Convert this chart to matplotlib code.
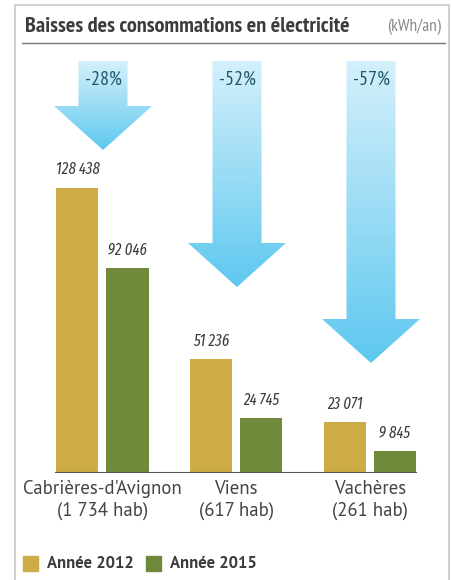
import numpy as np
import matplotlib.pyplot as plt
from matplotlib.patches import Polygon, Rectangle
from matplotlib.colors import LinearSegmentedColormap

communes = ["Cabrières-d'Avignon", "Viens", "Vachères"]
habitants = ["(1 734 hab)", "(617 hab)", "(261 hab)"]
conso_2012 = [128438, 51236, 23071]
conso_2015 = [92046, 24745, 9845]
baisses = ["-28%", "-52%", "-57%"]
annees = ["Année 2012", "Année 2015"]

GOLD = "#cdab45"
GREEN = "#6e8a3a"
TXT = "#3c3c3c"
NARROW = ["PT Sans Narrow", "Roboto Condensed", "DejaVu Sans"]
VALFONT = ["Fira Sans Extra Condensed", "Roboto Condensed", "DejaVu Sans"]
REG = ["PT Sans", "Fira Sans", "DejaVu Sans"]

W, H = 451, 580
fig = plt.figure(figsize=(W / 100, H / 100), dpi=100)

# overlay in pixel coords (y down) for frame, title, arrows, legend
ov = fig.add_axes([0, 0, 1, 1])
ov.set_xlim(0, W)
ov.set_ylim(H, 0)
ov.axis("off")

ov.plot([15, 15, 449, 449], [H + 5, 5, 5, H + 5], color="#c8c8c8", lw=1.2)
ov.plot([22, 445], [43, 43], color="#7a7a7a", lw=1.0)
ov.text(25, 26, "Baisses des consommations en électricité", family=NARROW,
        fontweight="bold", fontsize=16, color=TXT, va="center", ha="left")
ov.text(441, 27, "(kWh/an)", family=NARROW, fontsize=12.5, color="#8a8a8a",
        va="center", ha="right")

# arrows with vertical gradient
grad = np.linspace(0, 1, 256).reshape(-1, 1)
cmap = LinearSegmentedColormap.from_list("blu", ["#d4f0fb", "#9adcf5", "#5ec8f0"])
arrows = [(103, 61, 150), (237, 61, 287), (371, 61, 363)]
shaft_w, head_w, head_h = 49, 98, 44
for (cx, top, tip), lab in zip(arrows, baisses):
    hs = tip - head_h
    pts = [(cx - shaft_w / 2, top), (cx + shaft_w / 2, top), (cx + shaft_w / 2, hs),
           (cx + head_w / 2, hs), (cx, tip), (cx - head_w / 2, hs), (cx - shaft_w / 2, hs)]
    poly = Polygon(pts, closed=True, facecolor="none", edgecolor="none")
    ov.add_patch(poly)
    im = ov.imshow(grad, cmap=cmap, aspect="auto",
                   extent=(cx - head_w / 2, cx + head_w / 2, tip, top), zorder=1)
    im.set_clip_path(poly)
    ov.text(cx, 80, lab, family=NARROW, fontsize=14.5, color="#1e5868",
            ha="center", va="center", zorder=3)
ov.set_xlim(0, W)
ov.set_ylim(H, 0)

# bar chart axes
x0 = 102.5
unit = 133.75
ax = fig.add_axes([15 / W, 107 / H, (449 - 15) / W, (H - 5 - 107) / H])
ax.patch.set_alpha(0)
ax.set_xlim((15 - x0) / unit, (449 - x0) / unit)
ax.set_ylim(0, (H - 5 - 107) * 450)
x = np.arange(len(communes))
bw = 42 / unit
off = 25 / unit
b1 = ax.bar(x - off, conso_2012, bw, color=GOLD, zorder=2)
b2 = ax.bar(x + off, conso_2015, bw, color=GREEN, zorder=2)
for bars, vals in ((b1, conso_2012), (b2, conso_2015)):
    for r, v in zip(bars, vals):
        ax.annotate(f"{v:,}".replace(",", "\u2009"), (r.get_x() + r.get_width() / 2, v),
                    xytext=(0, 7), textcoords="offset points", ha="center", va="bottom",
                    family=VALFONT, style="italic", fontsize=11.5, color=TXT)
ax.plot([-off - bw / 2, 2 + off + bw / 2], [0, 0], color="#555555", lw=1.5, zorder=3)
for s in ax.spines.values():
    s.set_visible(False)
ax.set_yticks([])
ax.set_xticks(x)
ax.set_xticklabels([f"{c}\n{h}" for c, h in zip(communes, habitants)],
                   family=REG, fontsize=13.5, color="#444444", linespacing=1.25)
ax.tick_params(axis="x", length=0, pad=5)

# legend
ov.add_patch(Rectangle((23, 556), 15, 15, color=GOLD))
ov.text(47, 563.5, annees[0], family=REG, fontweight="bold", fontsize=12,
        color=TXT, va="center")
ov.add_patch(Rectangle((146, 556), 15, 15, color=GREEN))
ov.text(170, 563.5, annees[1], family=REG, fontweight="bold", fontsize=12,
        color=TXT, va="center")

fig.savefig("out.png", dpi=100)
